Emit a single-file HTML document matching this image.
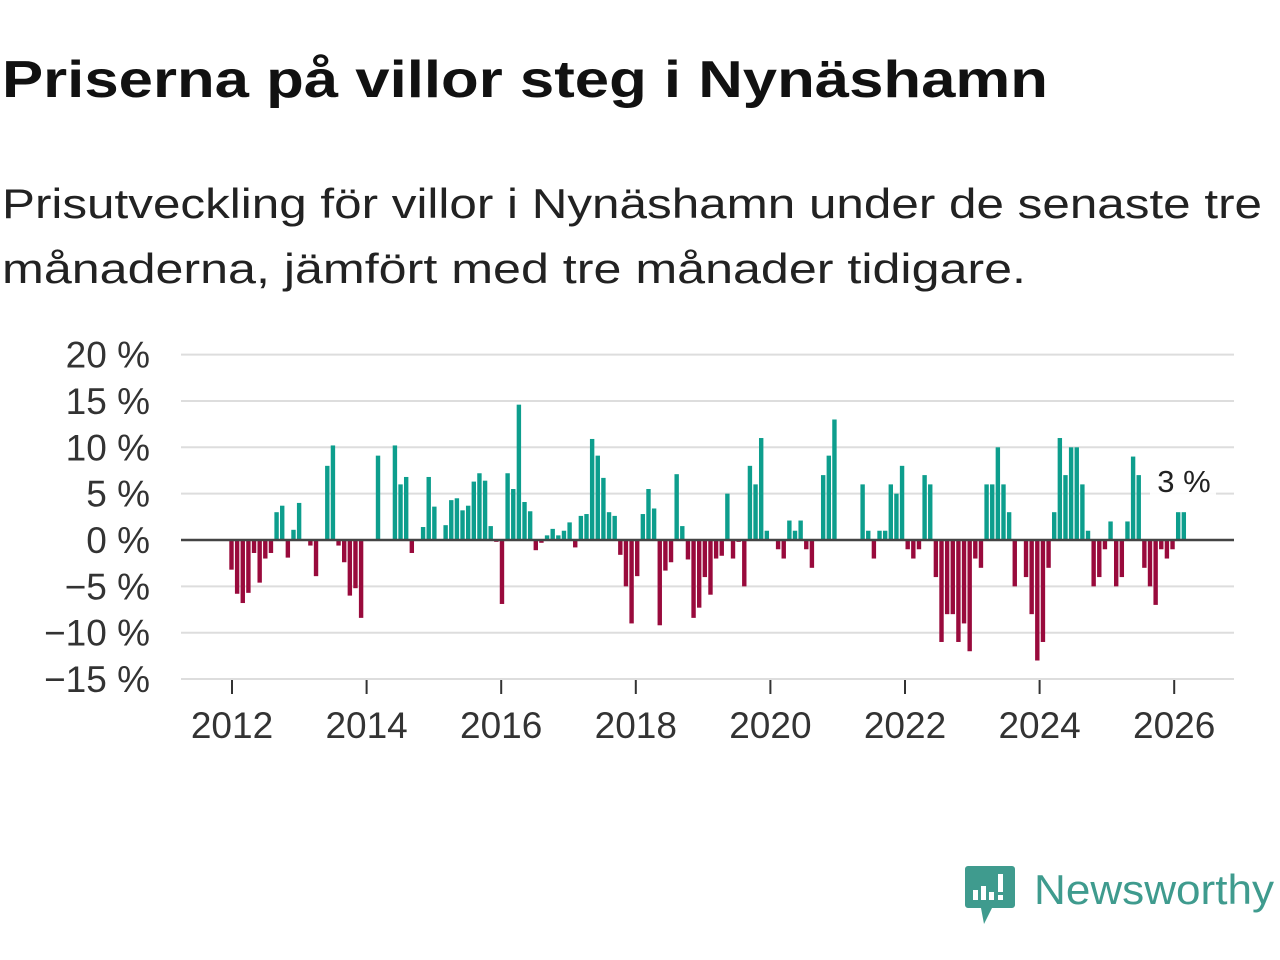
<!DOCTYPE html>
<html><head><meta charset="utf-8"><style>
html,body{margin:0;padding:0;background:#fff;width:1280px;height:960px;overflow:hidden}
svg{display:block}
text{font-family:"Liberation Sans","DejaVu Sans",sans-serif}
</style></head><body>
<svg id="chart" width="1280" height="960" viewBox="0 0 1280 960">
<text x="2" y="97" font-size="52" font-weight="bold" fill="#111" textLength="1046" lengthAdjust="spacingAndGlyphs">Priserna på villor steg i Nynäshamn</text>
<text x="2" y="218" font-size="42" fill="#222" textLength="1260" lengthAdjust="spacingAndGlyphs">Prisutveckling för villor i Nynäshamn under de senaste tre</text>
<text x="2" y="283" font-size="42" fill="#222" textLength="1024" lengthAdjust="spacingAndGlyphs">månaderna, jämfört med tre månader tidigare.</text>
<g id="grid"></g>
<g id="yaxis"></g>
<g id="xaxis"></g>
<g id="bars"></g>
<line id="zero" x1="181" x2="1234" y1="540" y2="540" stroke="#444" stroke-width="2.5"/>
<g>
<rect x="1150" y="461" width="66" height="36" fill="#fff" opacity="0.9"/>
<text id="lastlbl" x="1184" y="492" font-size="31" fill="#222" text-anchor="middle">3 %</text>
</g>
<g>
<path d="M968 866 h44 a3 3 0 0 1 3 3 v36 a3 3 0 0 1 -3 3 h-20 l-8 16 l-3 -16 h-13 a3 3 0 0 1 -3 -3 v-36 a3 3 0 0 1 3 -3z" fill="#3f9b8e"/>
<rect x="973" y="890" width="5" height="10" fill="#fff"/>
<rect x="981" y="886" width="5" height="14" fill="#fff"/>
<rect x="989" y="892" width="5" height="8" fill="#fff"/>
<rect x="998" y="874" width="5" height="18" fill="#fff"/>
<rect x="998" y="895" width="5" height="5" fill="#fff"/>
<text x="1034" y="904" font-size="42" fill="#3f9b8e" textLength="240" lengthAdjust="spacingAndGlyphs">Newsworthy</text>
</g>
</svg>
<script>
const yTicks=[20,15,10,5,0,-5,-10,-15];
const yTickLabels=["20 %","15 %","10 %","5 %","0 %","\u22125 %","\u221210 %","\u221215 %"];
const xTickYears=[2012,2014,2016,2018,2020,2022,2024,2026];
const startYear=2012;
const values=[-3.2,-5.8,-6.8,-5.7,-1.4,-4.6,-2,-1.4,3.0,3.7,-1.9,1.1,4.0,0,-0.6,-3.9,0,8.0,10.2,-0.6,-2.4,-6.0,-5.2,-8.4,
0,0,9.1,0,0,10.2,6.0,6.8,-1.4,0,1.4,6.8,3.6,0,1.6,4.3,4.5,3.2,3.7,6.3,7.2,6.4,1.5,-0.2,
-6.9,7.2,5.5,14.6,4.1,3.1,-1.1,-0.3,0.5,1.2,0.5,1.0,1.9,-0.8,2.6,2.8,10.9,9.1,6.7,3.0,2.6,-1.6,-5.0,-9.0,
-3.9,2.8,5.5,3.4,-9.2,-3.3,-2.4,7.1,1.5,-2.1,-8.4,-7.3,-4.0,-5.9,-2.0,-1.7,5.0,-2.0,-0.2,-5.0,8.0,6.0,11.0,1.0,
0,-1.0,-2.0,2.1,1.0,2.1,-1.0,-3.0,0,7.0,9.1,13.0,0,0,0,0,6.0,1.0,-2.0,1.0,1.0,6.0,5.0,8.0,
-1,-2,-1,7,6,-4,-11,-8,-8,-11,-9,-12,-2,-3,6,6,10,6,3,-5,0,-4,-8,-13,
-11,-3,3,11,7,10,10,6,1,-5,-4,-1,2,-5,-4,2,9,7,-3,-5,-7,-1,-2,-1,
3,3];
const X0=232, PX_PER_YEAR=67.3, Y0=540, PX_PER_PCT=9.27;
const BAR_X0=231.5, BAR_STEP=5.635;
function xScale(monthIdx){return BAR_X0+monthIdx*BAR_STEP;}
function xYear(y){return X0+(y-startYear)*PX_PER_YEAR;}
function yScale(v){return Y0-v*PX_PER_PCT;}
const NS="http://www.w3.org/2000/svg";
const grid=document.getElementById('grid'),yaxis=document.getElementById('yaxis'),xaxis=document.getElementById('xaxis'),bars=document.getElementById('bars');
yTicks.forEach((t,i)=>{
 const l=document.createElementNS(NS,'line');
 l.setAttribute('x1',181);l.setAttribute('x2',1234);l.setAttribute('y1',yScale(t));l.setAttribute('y2',yScale(t));
 l.setAttribute('stroke','#ddd');l.setAttribute('stroke-width','2');
 
 
 grid.appendChild(l);
 const tx=document.createElementNS(NS,'text');
 tx.setAttribute('x',150);tx.setAttribute('y',yScale(t)+13);tx.setAttribute('text-anchor','end');
 tx.setAttribute('font-size','37');tx.setAttribute('fill','#333');
 tx.textContent=yTickLabels[i];
 
 
 yaxis.appendChild(tx);
});
xTickYears.forEach(y=>{
 const l=document.createElementNS(NS,'line');
 l.setAttribute('x1',xYear(y));l.setAttribute('x2',xYear(y));l.setAttribute('y1',680);l.setAttribute('y2',694);
 l.setAttribute('stroke','#333');l.setAttribute('stroke-width','2');
 
 
 xaxis.appendChild(l);
 const tx=document.createElementNS(NS,'text');
 tx.setAttribute('x',xYear(y));tx.setAttribute('y',738);tx.setAttribute('text-anchor','middle');
 tx.setAttribute('font-size','37');tx.setAttribute('fill','#333');
 tx.textContent=String(y);
 
 
 xaxis.appendChild(tx);
});
values.forEach((v,i)=>{
 if(v===0)return;
 const r=document.createElementNS(NS,'rect');
 const cx=xScale(i);
 r.setAttribute('x',cx-2.2);r.setAttribute('width',4.4);
 r.setAttribute('y',Math.min(yScale(v),Y0));r.setAttribute('height',Math.abs(yScale(v)-Y0));
 r.setAttribute('fill',v>0?'#0d9e8d':'#990a3c');
 
 
 bars.appendChild(r);
});
document.getElementById('lastlbl').textContent=Math.round(values[values.length-1])+' %';
</script>
</body></html>
